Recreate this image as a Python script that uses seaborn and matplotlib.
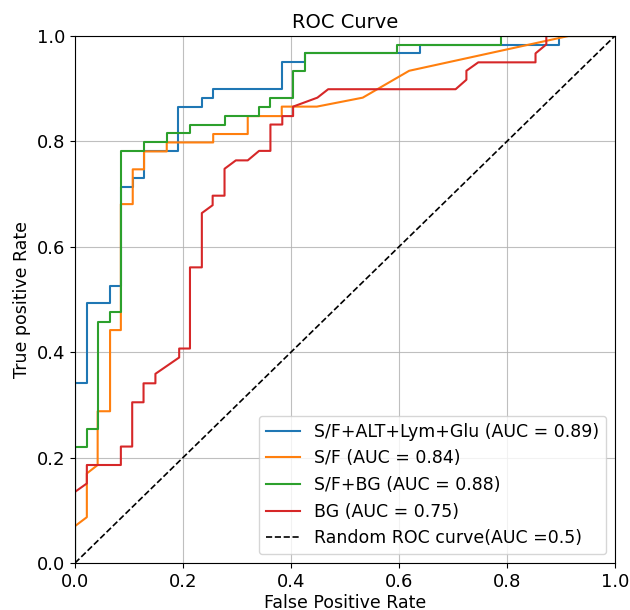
"""ROC curves for the four marker combinations."""
import matplotlib
matplotlib.use("Agg")
import matplotlib.pyplot as plt
import pandas as pd
import seaborn as sns

# (fpr, tpr) corner points
fpr_full = [0, 0, 0.022, 0.022, 0.065, 0.065, 0.085, 0.085, 0.107, 0.107,
            0.128, 0.128, 0.191, 0.191, 0.235, 0.235, 0.256, 0.256, 0.384, 0.384,
            0.426, 0.426, 0.639, 0.639, 0.896, 0.896, 1.0]
tpr_full = [0, 0.341, 0.341, 0.493, 0.493, 0.526, 0.526, 0.714, 0.714, 0.730,
            0.730, 0.781, 0.781, 0.866, 0.866, 0.882, 0.882, 0.899, 0.899, 0.950,
            0.950, 0.967, 0.967, 0.983, 0.983, 1.0, 1.0]

fpr_sf = [0, 0, 0.022, 0.022, 0.042, 0.042, 0.065, 0.065, 0.085, 0.085,
          0.107, 0.107, 0.128, 0.128, 0.170, 0.170, 0.256, 0.256, 0.320, 0.320,
          0.383, 0.383, 0.448, 0.533, 0.619, 0.914, 1.0]
tpr_sf = [0, 0.070, 0.087, 0.170, 0.186, 0.288, 0.288, 0.442, 0.442, 0.681,
          0.681, 0.747, 0.747, 0.781, 0.781, 0.798, 0.798, 0.814, 0.814, 0.848,
          0.848, 0.866, 0.866, 0.883, 0.934, 1.0, 1.0]

fpr_sfbg = [0, 0, 0.022, 0.022, 0.042, 0.042, 0.065, 0.065, 0.085, 0.085,
            0.128, 0.128, 0.170, 0.170, 0.213, 0.213, 0.278, 0.278, 0.341, 0.341,
            0.362, 0.362, 0.404, 0.404, 0.426, 0.426, 0.596, 0.596, 0.789, 0.789, 1.0]
tpr_sfbg = [0, 0.221, 0.221, 0.254, 0.254, 0.458, 0.458, 0.476, 0.476, 0.781,
            0.781, 0.798, 0.798, 0.815, 0.815, 0.831, 0.831, 0.848, 0.848, 0.866,
            0.866, 0.883, 0.883, 0.934, 0.934, 0.967, 0.967, 0.983, 0.983, 1.0, 1.0]

fpr_bg = [0, 0, 0.022, 0.022, 0.085, 0.085, 0.106, 0.106, 0.127, 0.127,
          0.149, 0.149, 0.193, 0.193, 0.213, 0.213, 0.235, 0.235, 0.255, 0.255,
          0.277, 0.277, 0.298, 0.320, 0.341, 0.362, 0.362, 0.384, 0.384, 0.404,
          0.404, 0.449, 0.469, 0.705, 0.725, 0.725, 0.747, 0.853, 0.853, 0.873,
          0.873, 1.0]
tpr_bg = [0, 0.135, 0.151, 0.186, 0.186, 0.221, 0.221, 0.305, 0.305, 0.341,
          0.341, 0.359, 0.390, 0.407, 0.407, 0.561, 0.561, 0.664, 0.679, 0.697,
          0.697, 0.748, 0.764, 0.764, 0.782, 0.782, 0.832, 0.832, 0.848, 0.848,
          0.866, 0.883, 0.899, 0.899, 0.917, 0.934, 0.950, 0.950, 0.967, 0.984,
          1.0, 1.0]

labels = ["S/F+ALT+Lym+Glu (AUC = 0.89)", "S/F (AUC = 0.84)",
          "S/F+BG (AUC = 0.88)", "BG (AUC = 0.75)"]
colors = ["tab:blue", "tab:orange", "tab:green", "tab:red"]
curves = [(fpr_full, tpr_full), (fpr_sf, tpr_sf), (fpr_sfbg, tpr_sfbg), (fpr_bg, tpr_bg)]

chance_x = [0, 1]
chance_y = [0, 1]

fig, ax = plt.subplots(figsize=(6.3, 6.1), dpi=100)
fig.subplots_adjust(left=0.119, right=0.976, top=0.941, bottom=0.077)

for (fpr, tpr), lab, col in zip(curves, labels, colors):
    df = pd.DataFrame({"fpr": fpr, "tpr": tpr})
    sns.lineplot(data=df, x="fpr", y="tpr", estimator=None, sort=False,
                 color=col, lw=1.5, label=lab, ax=ax)

sns.lineplot(x=chance_x, y=chance_y, color="k", linestyle="--", lw=1.2,
             label="Random ROC curve(AUC =0.5)", ax=ax)

ax.set_xlim(0, 1); ax.set_ylim(0, 1)
ax.set_title("ROC Curve", fontsize=14)
ax.set_xlabel("False Positive Rate", fontsize=12.5, labelpad=2)
ax.set_ylabel("True positive Rate", fontsize=12.5)
ax.tick_params(labelsize=13)
ax.grid(True, alpha=0.8)
ax.legend(loc="lower right", fontsize=12.5)

plt.savefig("out.png", dpi=100)
plt.close(fig)
